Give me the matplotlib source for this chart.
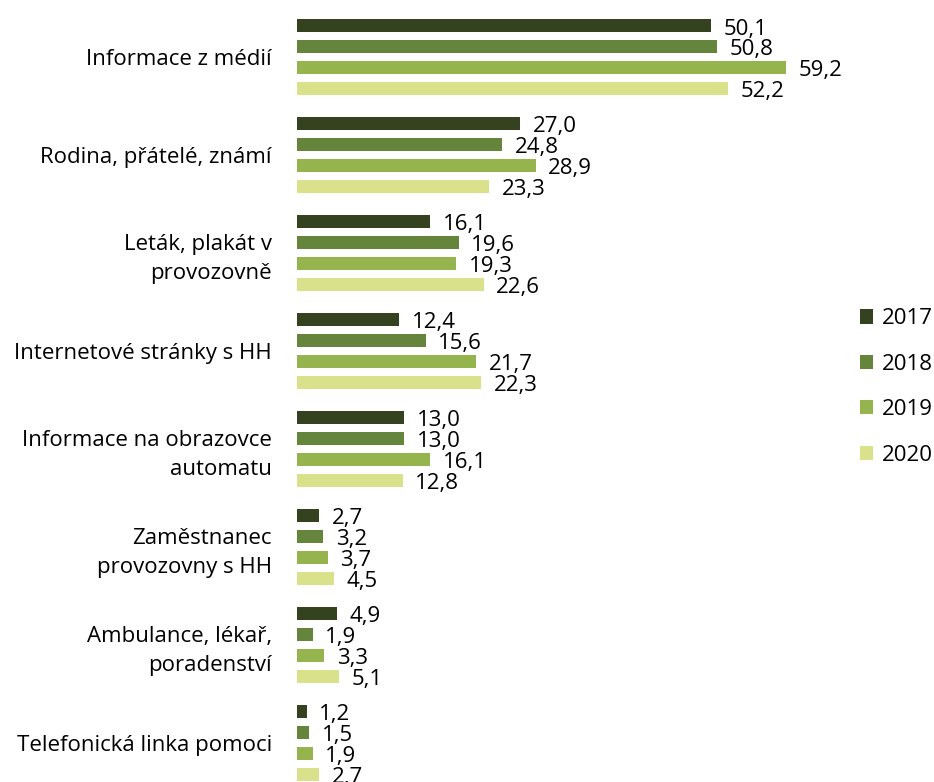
import numpy as np
import matplotlib.pyplot as plt
from matplotlib.patches import Patch

# =========================
# DATA
# =========================
categories = [
    "Informace z médií",
    "Rodina, přátelé, známí",
    "Leták, plakát v\nprovozovně",
    "Internetové stránky s HH",
    "Informace na obrazovce\nautomatu",
    "Zaměstnanec\nprovozovny s HH",
    "Ambulance, lékař,\nporadenství",
    "Telefonická linka pomoci",
]
years = ["2017", "2018", "2019", "2020"]

v2017 = [50.1, 27.0, 16.1, 12.4, 13.0, 2.7, 4.9, 1.2]
v2018 = [50.8, 24.8, 19.6, 15.6, 13.0, 3.2, 1.9, 1.5]
v2019 = [59.2, 28.9, 19.3, 21.7, 16.1, 3.7, 3.3, 1.9]
v2020 = [52.2, 23.3, 22.6, 22.3, 12.8, 4.5, 5.1, 2.7]

colors = ["#344220", "#66853c", "#95b44d", "#d9e18a"]

# =========================
# PLOT
# =========================
plt.rcParams['font.family'] = ['Open Sans', 'DejaVu Sans']

fig = plt.figure(figsize=(9.34, 7.82), dpi=100)
ax = fig.add_axes([297 / 934, 0.0, 0.582, 1 - 8 / 782])

y = np.arange(len(categories))
offsets = [-0.321, -0.107, 0.107, 0.321]
bar_h = 0.133

for vals, off, col, yr in zip([v2017, v2018, v2019, v2020], offsets, colors, years):
    bars = ax.barh(y + off, vals, height=bar_h, color=col, label=yr)
    # value labels, Excel style: a little right of the bar end
    for b, v in zip(bars, vals):
        ax.annotate(
            f"{v:.1f}".replace(".", ","),
            xy=(b.get_width(), b.get_y() + b.get_height() / 2),
            xytext=(9, -2.5), textcoords="offset points",
            va="center", ha="left", fontsize=16, color="#000000",
        )

ax.set_xlim(0, 65.8)
ax.set_ylim(7.4, -0.5)
ax.set_yticks(y)
ax.set_yticklabels(categories, fontsize=16, linespacing=1.5)
ax.tick_params(axis="y", length=0, pad=18)
ax.set_xticks([])
for s in ax.spines.values():
    s.set_visible(False)

handles = [Patch(facecolor=c, label=yr) for c, yr in zip(colors, years)]
fig.legend(
    handles=handles, loc="center left", bbox_to_anchor=(851 / 934, 1 - 387 / 782),
    borderaxespad=0, frameon=False, fontsize=16, handlelength=0.6, handleheight=0.6,
    labelspacing=1.1, handletextpad=0.4,
)

plt.savefig("out.png", dpi=100)
